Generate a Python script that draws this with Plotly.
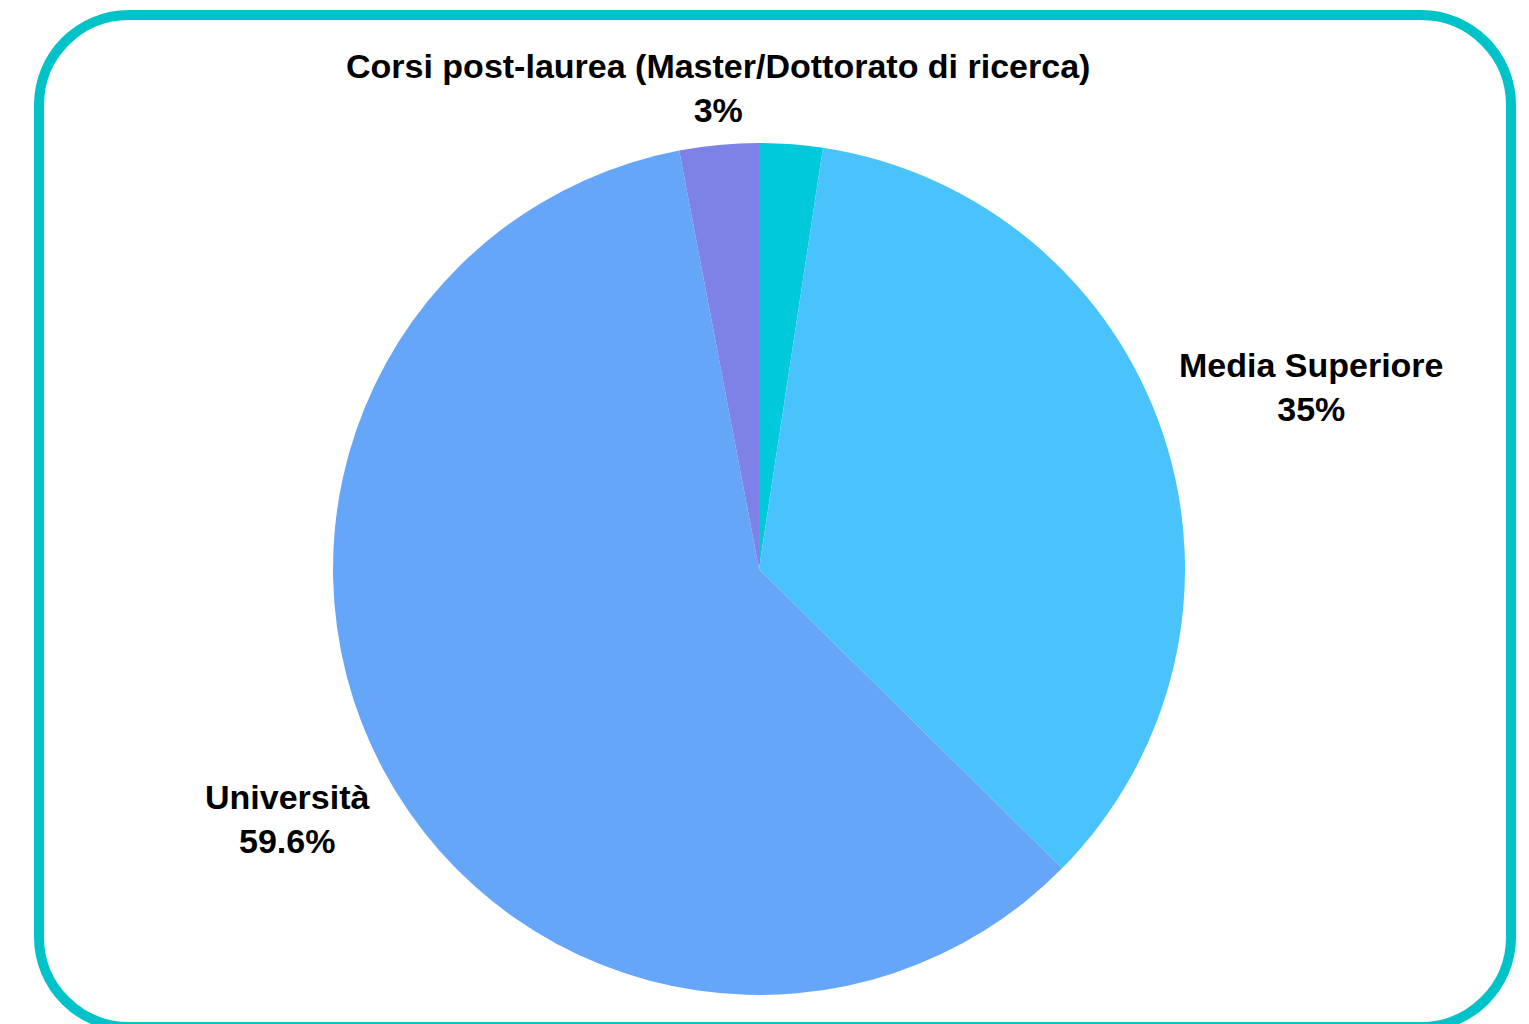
import math
import plotly.graph_objects as go

# ---- data ----
categories = ["Media Inferiore", "Media Superiore", "Università",
              "Corsi post-laurea (Master/Dottorato di ricerca)"]
values = [2.4, 35.0, 59.6, 3.0]
pct_labels = ["2.4%", "35%", "59.6%", "3%"]
show_label = [False, True, True, True]
colors = ["#00C9DB", "#4AC3FD", "#66A6F8", "#7E81E5"]

# ---- layout geometry (pixels) ----
W, H = 1529, 1024
ML, MR, MT, MB = 333, 344, 143, 29
PW = W - ML - MR  # 852
PH = H - MT - MB  # 852


def px_to_paper(px, py):
    return (px - ML) / PW, 1 - (py - MT) / PH


fig = go.Figure(go.Pie(
    labels=categories,
    values=values,
    sort=False,
    direction="clockwise",
    rotation=0,
    marker=dict(colors=colors, line=dict(width=0)),
    textinfo="none",
    hoverinfo="label+percent",
    showlegend=False,
))

# ---- labels placed outside the slices, derived from the data ----
total = sum(values)
cum = 0.0
label_font = dict(family="Liberation Sans, Arial, sans-serif", size=34, color="#000000", weight="bold")
d = 14 / PW
annotations = []
for cat, v, pl, show in zip(categories, values, pct_labels, show_label):
    mid = (cum + v / 2) / total * 2 * math.pi
    cum += v
    if not show:
        continue
    s, c = math.sin(mid), math.cos(mid)
    x = 0.5 + (0.5 + d) * s
    y = 0.5 + (0.5 + d) * c
    xa = "center" if abs(s) < 0.25 else ("left" if s > 0 else "right")
    ya = "middle" if abs(c) < 0.25 else ("bottom" if c > 0 else "top")
    annotations.append(dict(
        x=x, y=y, xref="paper", yref="paper",
        text=f"{cat}<br>{pl}", showarrow=False,
        xanchor=xa, yanchor=ya, align="center",
        font=label_font,
    ))

# ---- rounded border ----
L, R, T, B, rad = 39, 1511, 15, 1027, 90
k = 0.5523 * rad


def P(px, py):
    x, y = px_to_paper(px, py)
    return f"{x:.5f},{y:.5f}"


path = (
    f"M {P(L + rad, T)} L {P(R - rad, T)} "
    f"C {P(R - rad + k, T)} {P(R, T + rad - k)} {P(R, T + rad)} "
    f"L {P(R, B - rad)} "
    f"C {P(R, B - rad + k)} {P(R - rad + k, B)} {P(R - rad, B)} "
    f"L {P(L + rad, B)} "
    f"C {P(L + rad - k, B)} {P(L, B - rad + k)} {P(L, B - rad)} "
    f"L {P(L, T + rad)} "
    f"C {P(L, T + rad - k)} {P(L + rad - k, T)} {P(L + rad, T)} Z"
)

fig.update_layout(
    width=W, height=H,
    margin=dict(l=ML, r=MR, t=MT, b=MB, pad=0),
    paper_bgcolor="white",
    plot_bgcolor="white",
    annotations=annotations,
    shapes=[dict(type="path", path=path, xref="paper", yref="paper",
                 line=dict(color="#00C3CA", width=10), fillcolor="rgba(0,0,0,0)")],
)

fig.write_html("out.html", config={"displayModeBar": False})
